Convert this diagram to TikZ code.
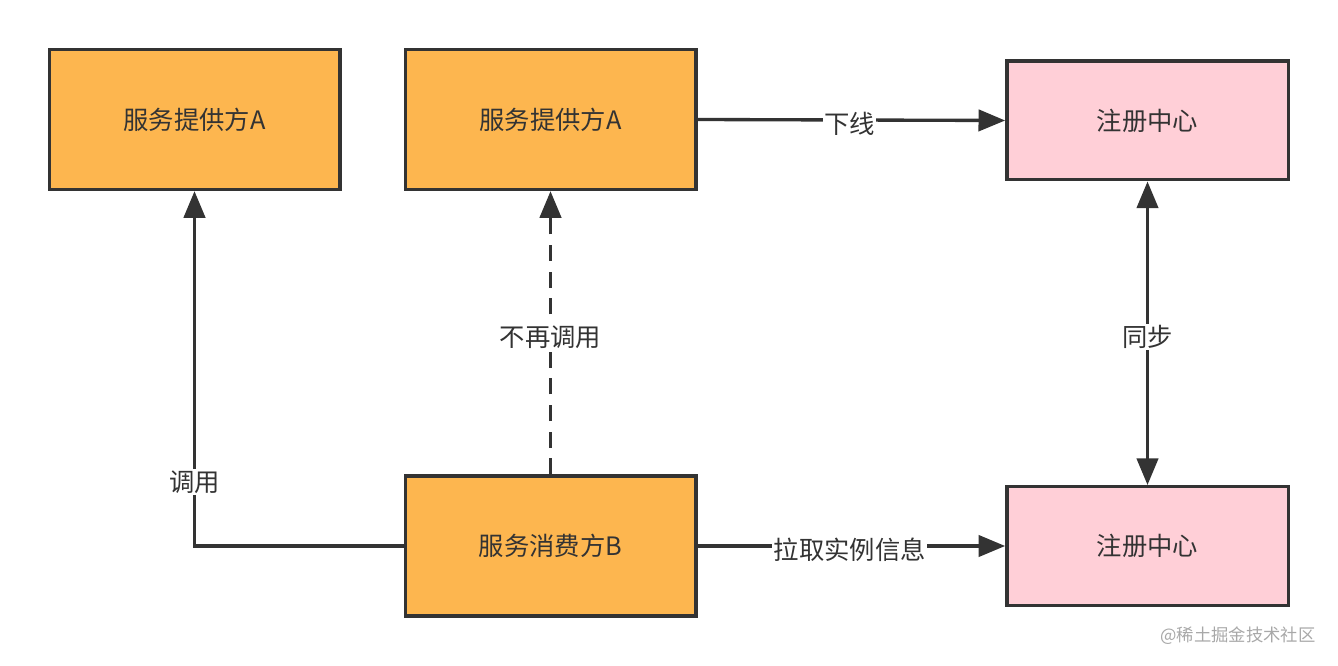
\documentclass[tikz,border=0pt]{standalone}
\usepackage{fontspec}
\setmainfont{Noto Sans CJK SC}
\usetikzlibrary{arrows.meta}
\definecolor{ink}{HTML}{333333}
\definecolor{orng}{HTML}{FDB64F}
\definecolor{pnk}{HTML}{FFCFD7}
\definecolor{wm}{HTML}{A8A8A8}
\begin{document}
\begin{tikzpicture}[x=0.75pt,y=-0.75pt,
  box/.style={draw=ink,line width=2.5pt,inner sep=0pt,font=\fontsize{19}{22}\selectfont,text=ink},
  obox/.style={box,fill=orng,minimum width=218pt,minimum height=105pt},
  pbox/.style={box,fill=pnk,minimum width=211pt,minimum height=89pt},
  conn/.style={draw=ink,line width=2.5pt,-{Triangle[length=20pt,width=16pt]}},
  lbl/.style={fill=white,inner sep=1pt,font=\fontsize{19}{22}\selectfont,text=ink}]
\useasboundingbox (0,0) rectangle (1338,666);
\node[obox] (a1) at (194.5,119.5) {\raisebox{-3pt}{服务提供方A}};
\node[obox] (a2) at (550.5,119.5) {\raisebox{-3pt}{服务提供方A}};
\node[pbox] (r1) at (1147.5,120.5) {\raisebox{-3pt}{注册中心}};
\node[obox] (b) at (550.5,546) {\raisebox{-3pt}{服务消费方B}};
\node[pbox] (r2) at (1147.5,546) {\raisebox{-3pt}{注册中心}};
\coordinate (bend) at (194.5,546);
\draw[conn] (b.west) -- (bend) -- node[lbl,pos=0.18] {调用} (a1.south);
\draw[conn,dash pattern=on 12pt off 8pt] (b.north) -- node[lbl,pos=0.485] {不再调用} (a2.south);
\draw[conn] (a2.east) -- node[lbl,pos=0.495,yshift=-3pt] {下线} (r1.west);
\draw[conn] (b.east) -- node[lbl,pos=0.495,yshift=-3pt] {拉取实例信息} (r2.west);
\draw[conn,{Triangle[length=20pt,width=16pt]}-{Triangle[length=20pt,width=16pt]}] (r1.south) -- node[lbl,yshift=-3pt] {同步} (r2.north);
\node[text=wm,font=\fontsize{13}{15}\selectfont,inner sep=0pt] (wmk) at (1238,636) {@稀土掘金技术社区};
\end{tikzpicture}
\end{document}
